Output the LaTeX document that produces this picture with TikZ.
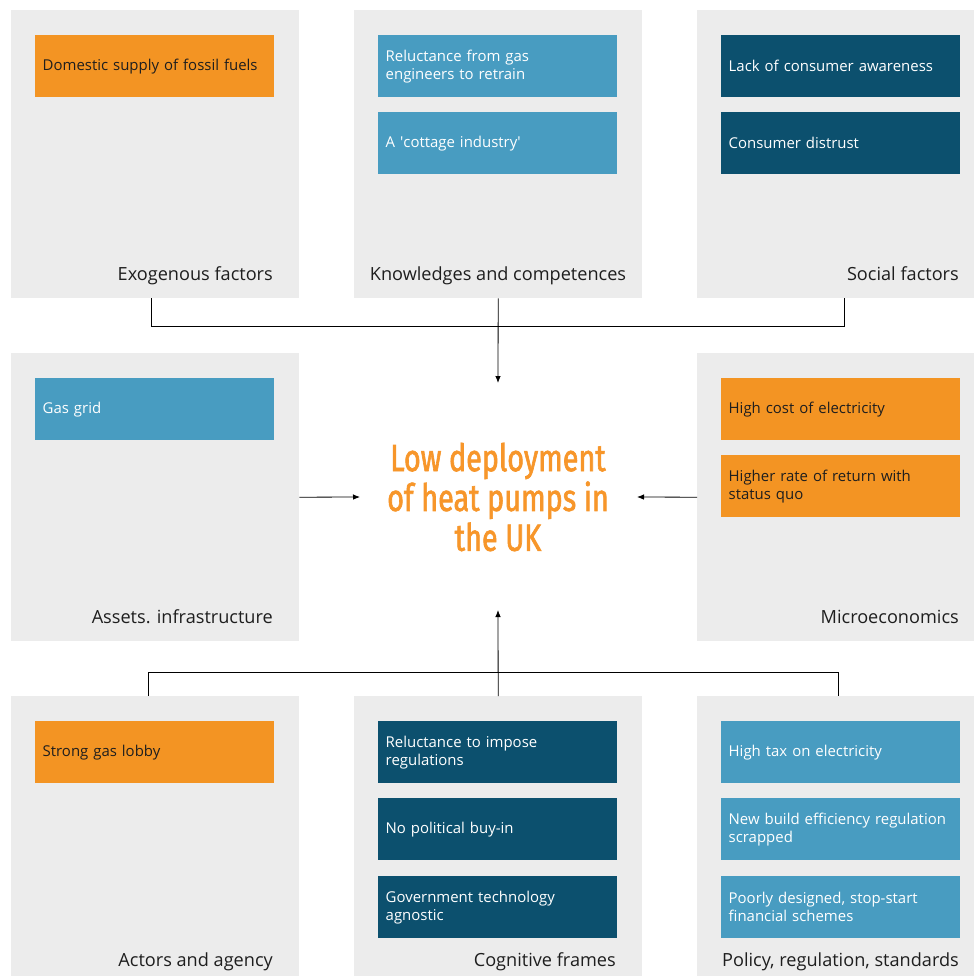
\documentclass[tikz,border=0pt]{standalone}
\usepackage{fontspec}
\setmainfont{Open Sans}
\newfontfamily\headfont[FakeStretch=0.76,FakeBold=1.6]{Fira Sans}
\usetikzlibrary{arrows.meta}
\definecolor{panelgrey}{HTML}{ECECEC}
\definecolor{orangefill}{HTML}{F39423}
\definecolor{lightblue}{HTML}{489CC1}
\definecolor{darkblue}{HTML}{0C506E}
\definecolor{darktext}{HTML}{1E1E1E}
\definecolor{headorange}{HTML}{F7962A}

\begin{document}
\begin{tikzpicture}
[x=1bp,y=-1bp,
	panel/.style={fill=panelgrey,minimum width=288bp,minimum height=288bp,inner sep=0pt,anchor=north west},
	factor/.style={anchor=north west,minimum width=239bp,minimum height=62bp,text width=224bp,inner xsep=7.5bp,inner ysep=0pt,align=left,font=\fontsize{15}{18}\selectfont},
	orangebox/.style={factor,fill=orangefill,text=darktext},
	lightbox/.style={factor,fill=lightblue,text=white},
	darkbox/.style={factor,fill=darkblue,text=white},
	caption/.style={anchor=base east,inner sep=0pt,text=darktext,font=\fontsize{18.2}{20}\selectfont},
	link/.style={line width=0.8bp,draw=black},
	arrowlink/.style={link,-{Latex[length=7bp,width=5.5bp]}}]
\clip (0,0) rectangle (974,976);
\fill[white] (0,0) rectangle (974,976);

% panels
\node[panel] (exo) at (11,10) {};
\node[panel] (know) at (354,10) {};
\node[panel] (soc) at (697,10) {};
\node[panel] (assets) at (11,353) {};
\node[panel] (micro) at (697,353) {};
\node[panel] (actors) at (11,696) {};
\node[panel] (cog) at (354,696) {};
\node[panel] (pol) at (697,696) {};

% factors
\node[orangebox] (fossil) at (35,35) {Domestic supply of fossil fuels};
\node[lightbox] (retrain) at (378,35) {Reluctance from gas\\engineers to retrain};
\node[lightbox] (cottage) at (378,112) {A \textquotesingle cottage industry\textquotesingle};
\node[darkbox] (aware) at (721,35) {Lack of consumer awareness};
\node[darkbox] (distrust) at (721,112) {Consumer distrust};
\node[lightbox] (grid) at (35,378) {Gas grid};
\node[orangebox] (cost) at (721,378) {High cost of electricity};
\node[orangebox] (return) at (721,455) {Higher rate of return with\\status quo};
\node[orangebox] (lobby) at (35,721) {Strong gas lobby};
\node[darkbox] (impose) at (378,721) {Reluctance to impose\\regulations};
\node[darkbox] (buyin) at (378,798) {No political buy-in};
\node[darkbox] (agnostic) at (378,876) {Government technology\\agnostic};
\node[lightbox] (tax) at (721,721) {High tax on electricity};
\node[lightbox] (newbuild) at (721,798) {New build efficiency regulation\\scrapped};
\node[lightbox] (schemes) at (721,876) {Poorly designed, stop-start\\financial schemes};

% captions
\node[caption] (exolabel) at (273,280) {Exogenous factors};
\node[caption,anchor=base] (knowlabel) at (498,280) {Knowledges and competences};
\node[caption] (soclabel) at (959,280) {Social factors};
\node[caption] (assetslabel) at (273,623) {Assets. infrastructure};
\node[caption] (microlabel) at (959,623) {Microeconomics};
\node[caption] (actorslabel) at (273,966) {Actors and agency};
\node[caption] (coglabel) at (616,966) {Cognitive frames};
\node[caption] (pollabel) at (959,966) {Policy, regulation, standards};

% centre
\node[align=center,text=headorange,font=\headfont\fontsize{38}{40}\selectfont] (lowhp) at (498,497) {Low deployment\\of heat pumps in\\the UK};
\coordinate (topin) at (498,383);
\coordinate (leftin) at (360,497);
\coordinate (rightin) at (637,497);
\coordinate (botin) at (498,610);

\draw[link] ([xshift=-4bp]exo.south) -- ++(0,28) -| ([xshift=3bp]soc.south);
\draw[arrowlink] (know.south) -- (topin);
\draw[arrowlink] (assets.east) -- (leftin);
\draw[arrowlink] (micro.west) -- (rightin);
\draw[link] ([xshift=-7bp]actors.north) -- ++(0,-24) -| ([xshift=-3bp]pol.north);
\draw[arrowlink] (cog.north) -- (botin);
\end{tikzpicture}
\end{document}
